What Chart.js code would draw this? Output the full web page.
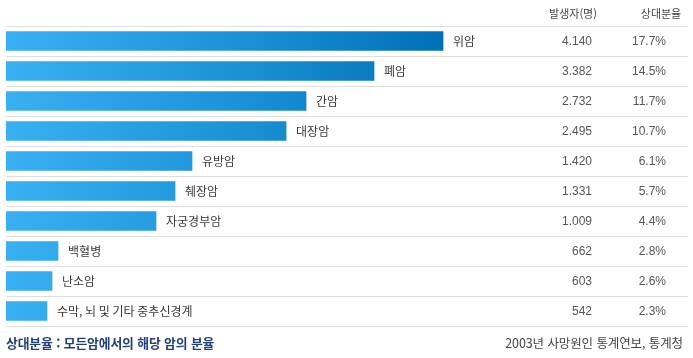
<!DOCTYPE html>
<html lang="ko">
<head>
<meta charset="utf-8">
<script src="https://cdn.jsdelivr.net/npm/chart.js@4/dist/chart.umd.min.js"></script>
<style>
  html, body { margin: 0; padding: 0; background: #fff; }
  #wrap { position: relative; width: 693px; height: 358px; overflow: hidden; }
  #chart { position: absolute; left: 0; top: 0; }
  .hdr { position: absolute; top: 5px; font: 11px "Noto Sans CJK KR", sans-serif; color: #444; white-space: nowrap; transform: translateX(-50%); }
  #noteL { position: absolute; left: 6px; top: 333px; font: bold 12.8px "Noto Sans CJK KR", sans-serif; color: #1f3f78; white-space: nowrap; letter-spacing: -0.1px; }
  #noteR { position: absolute; right: 10px; top: 333px; font: 12.5px "Noto Sans CJK KR", sans-serif; color: #444; white-space: nowrap; letter-spacing: -0.1px; }
</style>
</head>
<body>
<div id="wrap">
  <canvas id="chart" width="693" height="358"></canvas>
  <div class="hdr" id="h1" style="left:573px">발생자(명)</div>
  <div class="hdr" id="h2" style="left:661px">상대분율</div>
  <div id="noteL">상대분율 : 모든암에서의 해당 암의 분율</div>
  <div id="noteR">2003년 사망원인 통계연보, 통계청</div>
</div>
<script>
// ---- data ----
const categories = ['위암', '폐암', '간암', '대장암', '유방암', '췌장암', '자궁경부암', '백혈병', '난소암', '수막, 뇌 및 기타 중추신경계'];
const cases = [4140, 3382, 2732, 2495, 1420, 1331, 1009, 662, 603, 542];
const shares = [17.7, 14.5, 11.7, 10.7, 6.1, 5.7, 4.4, 2.8, 2.6, 2.3];
// bar lengths as drawn in the reference (same unit as the top bar = 4140)
const barLengths = [4140, 3486, 2842, 2653, 1762, 1601, 1421, 493, 436, 388];
const axisMax = 6460;

function fmtCases(v) {
  return String(v).replace(/\B(?=(\d{3})+(?!\d))/g, '.');
}

const overlay = {
  id: 'overlay',
  afterDatasetsDraw(chart) {
    const { ctx, scales: { x, y } } = chart;
    ctx.save();
    ctx.textBaseline = 'middle';
    const meta = chart.getDatasetMeta(0);
    categories.forEach((c, i) => {
      const yc = y.getPixelForValue(i);
      const barEnd = meta.data[i].x;
      ctx.fillStyle = '#3a3a3a';
      ctx.textAlign = 'left';
      ctx.font = '12px "Noto Sans CJK KR", sans-serif';
      ctx.fillText(c, barEnd + 10, yc + 0.5);
      ctx.fillStyle = '#555';
      ctx.textAlign = 'right';
      ctx.font = '12px "Liberation Sans Narrow", "Liberation Sans", sans-serif';
      ctx.fillText(fmtCases(cases[i]), 592, yc + 0.5);
      ctx.fillText(shares[i].toFixed(1) + '%', 666, yc + 0.5);
    });
    ctx.restore();
  }
};

new Chart(document.getElementById('chart'), {
  type: 'bar',
  data: {
    labels: categories,
    datasets: [{
      data: barLengths,
      barThickness: 19,
      borderWidth: 0,
      backgroundColor(context) {
        const chart = context.chart;
        const { ctx, chartArea, scales } = chart;
        if (!chartArea) return '#37aef0';
        const x0 = scales.x.getPixelForValue(0);
        const x1 = scales.x.getPixelForValue(Math.max(...barLengths));
        const g = ctx.createLinearGradient(x0, 0, x1, 0);
        g.addColorStop(0, '#38b0f2');
        g.addColorStop(0.5, '#1e94d8');
        g.addColorStop(1, '#0070b6');
        return g;
      }
    }]
  },
  options: {
    indexAxis: 'y',
    responsive: false,
    animation: false,
    layout: { padding: { left: 6, right: 5, top: 26, bottom: 32 } },
    plugins: { legend: { display: false }, tooltip: { enabled: false } },
    scales: {
      x: { display: false, min: 0, max: axisMax },
      y: {
        display: true,
        offset: true,
        border: { display: false },
        ticks: { display: false, padding: 0 },
        grid: {
          offset: true,
          drawTicks: false,
          tickLength: 0,
          color: (ctx) => ctx.index === categories.length ? '#d4d4d4' : '#dedede',
          lineWidth: (ctx) => ctx.index === categories.length ? 2 : 1
        }
      }
    }
  },
  plugins: [overlay]
});
</script>
</body>
</html>
